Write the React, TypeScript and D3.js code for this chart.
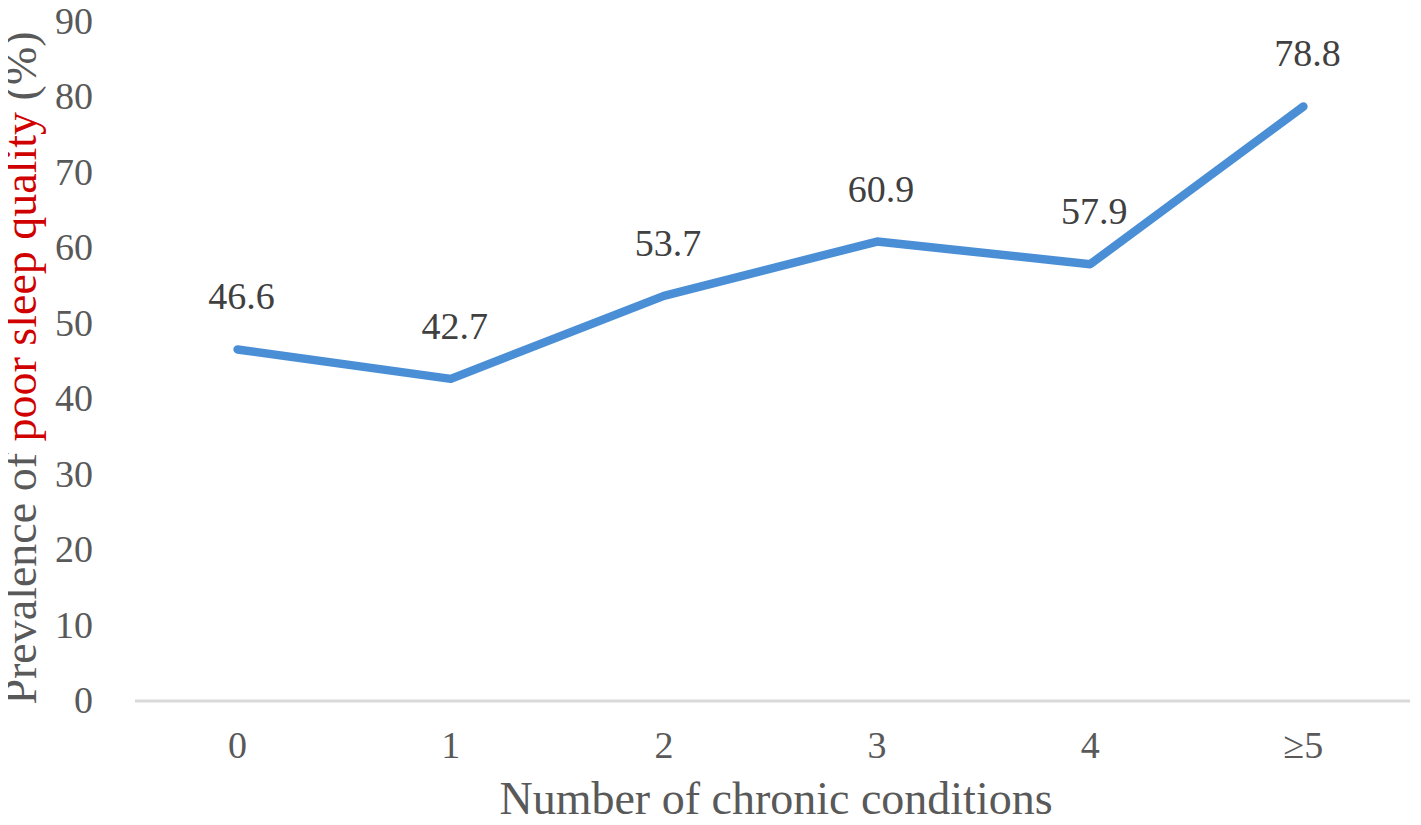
import React, { useEffect, useRef } from "react";
import * as d3 from "d3";

const categories = ["0", "1", "2", "3", "4", "≥5"];
const prevalence = [46.6, 42.7, 53.7, 60.9, 57.9, 78.8];
const yTicks = [0, 10, 20, 30, 40, 50, 60, 70, 80, 90];

const App: React.FC = () => {
  const ref = useRef<SVGSVGElement>(null);

  useEffect(() => {
    const width = 1421;
    const height = 825;
    const margin = { top: 22, right: 11, bottom: 124, left: 131 };

    const x = d3
      .scaleBand()
      .domain(categories)
      .range([margin.left, width - margin.right]);

    const y = d3
      .scaleLinear()
      .domain([0, 90])
      .range([height - margin.bottom, margin.top]);

    const svg = d3.select(ref.current);
    svg.selectAll("*").remove();
    svg.attr("width", width).attr("height", height).style("display", "block");

    const font = "'Liberation Serif', 'Times New Roman', serif";

    // y tick labels
    svg
      .append("g")
      .selectAll("text")
      .data(yTicks)
      .enter()
      .append("text")
      .attr("x", 93)
      .attr("y", (d) => y(d) + 12)
      .attr("text-anchor", "end")
      .attr("font-family", font)
      .attr("font-size", 38)
      .attr("fill", "#595959")
      .text((d) => d);

    // x axis line
    svg
      .append("line")
      .attr("x1", x.range()[0] + 4)
      .attr("x2", x.range()[1])
      .attr("y1", y(0))
      .attr("y2", y(0))
      .attr("stroke", "#d9d9d9")
      .attr("stroke-width", 3);

    // x tick labels
    svg
      .append("g")
      .selectAll("text")
      .data(categories)
      .enter()
      .append("text")
      .attr("x", (d) => x(d)! + x.bandwidth() / 2)
      .attr("y", y(0) + 57)
      .attr("text-anchor", "middle")
      .attr("font-family", font)
      .attr("font-size", 38)
      .attr("fill", "#595959")
      .text((d) => d);

    // line
    const pts = categories.map((c, i) => ({ c, v: prevalence[i] }));
    const line = d3
      .line<{ c: string; v: number }>()
      .x((d) => x(d.c)! + x.bandwidth() / 2)
      .y((d) => y(d.v));

    svg
      .append("path")
      .datum(pts)
      .attr("fill", "none")
      .attr("stroke", "#4a8fd6")
      .attr("stroke-width", 8.5)
      .attr("stroke-linecap", "round")
      .attr("stroke-linejoin", "round")
      .attr("d", line);

    // data labels
    svg
      .append("g")
      .selectAll("text")
      .data(pts)
      .enter()
      .append("text")
      .attr("x", (d) => x(d.c)! + x.bandwidth() / 2 + 4)
      .attr("y", (d) => y(d.v) - 40)
      .attr("text-anchor", "middle")
      .attr("font-family", font)
      .attr("font-size", 38)
      .attr("fill", "#404040")
      .text((d) => d.v.toFixed(1));

    // x title
    svg
      .append("text")
      .attr("x", 776)
      .attr("y", 814)
      .attr("text-anchor", "middle")
      .attr("font-family", font)
      .attr("font-size", 46)
      .attr("fill", "#595959")
      .text("Number of chronic conditions");

    // y title
    const yt = svg
      .append("text")
      .attr("transform", "translate(36,368) rotate(-90)")
      .attr("text-anchor", "middle")
      .attr("font-family", font)
      .attr("font-size", 46)
      .attr("fill", "#595959");
    yt.append("tspan").text("Prevalence of ");
    yt.append("tspan").attr("fill", "#d00000").text("poor sleep quality");
    yt.append("tspan").text(" (%)");
  }, []);

  return (
    <div style={{ margin: -8 }}>
      <svg ref={ref}></svg>
    </div>
  );
};

export default App;
